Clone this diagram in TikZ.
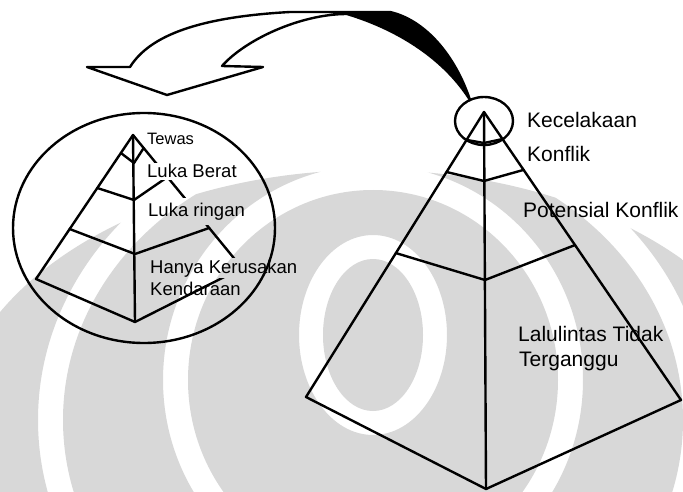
\documentclass[tikz,border=0pt]{standalone}
\usepackage{fontspec}
\setmainfont{Liberation Sans}
\usetikzlibrary{calc}
\definecolor{wm}{RGB}{216,216,216}
\begin{document}
\begin{tikzpicture}[x=1pt,y=-1pt, line join=round, line cap=round,
  edge/.style={line width=2.4pt, black},
  ring/.style={line width=2.4pt, black},
  biglab/.style={anchor=base west, inner sep=0pt, font=\fontsize{21}{21}\selectfont},
  smalllab/.style={anchor=base west, inner sep=1.5pt, font=\fontsize{18.5}{18.5}\selectfont, fill=white},
]
\useasboundingbox (0,0) rectangle (683,492);
\fill[white] (0,0) rectangle (683,492);

% ---------- big pyramid ----------
\coordinate (BA) at (484,112);
\coordinate (BL) at (306,397);
\coordinate (BB) at (486,489);
\coordinate (BR) at (681,400);
\coordinate (B1l) at ($(BA)!0.098!(BL)$);
\coordinate (B2l) at ($(BA)!0.2105!(BL)$);
\coordinate (B3l) at ($(BA)!0.495!(BL)$);
\coordinate (B1r) at ($(BA)!0.094!(BR)$);
\coordinate (B2r) at ($(BA)!0.201!(BR)$);
\coordinate (B3r) at ($(BA)!0.462!(BR)$);
\coordinate (B1c) at (484,143);
\coordinate (B2c) at (484,181);
\coordinate (B3c) at (485,280);
\draw[edge] (BA) -- (BL) -- (BB) -- (BR) -- cycle;
\draw[edge] (BA) -- (BB);
\draw[edge] (B1l) -- (B1c) -- (B1r);
\draw[edge] (B2l) -- (B2c) -- (B2r);
\draw[edge] (B3l) -- (B3c) -- (B3r);
\draw[ring] (484,121) ellipse [x radius=29pt, y radius=24pt];

\node[biglab] (kec) at (527,128) {Kecelakaan};
\node[biglab] (kon) at (527,162) {Konflik};
\node[biglab] (pot) at (523,217) {Potensial Konflik};
\node[biglab] (lal) at (518,341) {Lalulintas Tidak};
\node[biglab] (ter) at (519,366) {Terganggu};

% ---------- small pyramid ----------
\coordinate (SA) at (133,135);
\coordinate (SL) at (36,279);
\coordinate (SB) at (135,322);
\coordinate (SR) at (242,268);
\coordinate (S1l) at ($(SA)!0.125!(SL)$);
\coordinate (S2l) at ($(SA)!0.368!(SL)$);
\coordinate (S3l) at ($(SA)!0.653!(SL)$);
\coordinate (S1r) at ($(SA)!0.098!(SR)$);
\coordinate (S2r) at ($(SA)!0.316!(SR)$);
\coordinate (S3r) at ($(SA)!0.699!(SR)$);
\coordinate (S1c) at (134,163);
\coordinate (S2c) at (134,200);
\coordinate (S3c) at (135,254);
\draw[edge] (SA) -- (SL) -- (SB) -- (SR) -- cycle;
\draw[edge] (SA) -- (SB);
\draw[edge] (S1l) -- (S1c) -- (S1r);
\draw[edge] (S2l) -- (S2c) -- (S2r);
\draw[edge] (S3l) -- (S3c) -- (S3r);

\node[smalllab, font=\fontsize{16.5}{16.5}\selectfont] (tew) at (145.5,145) {Tewas};
\node[smalllab] (lbe) at (145.5,178) {Luka Berat};
\node[smalllab, inner ysep=5pt] (lri) at (146.5,216) {Luka ringan};
\node[smalllab] (hkr) at (148.5,273) {Hanya Kerusakan};
\node[smalllab, fill=none] (ken) at (148.5,295) {Kendaraan};

\draw[ring] (144,228) ellipse [x radius=131pt, y radius=115pt];

% ---------- curved block arrow ----------
\draw[line width=2.4pt, fill=white] (87,67) -- (130,67)
  .. controls (150,35) and (200,17) .. (290,12) -- (390,12)
  .. controls (425,20) and (455,55) .. (470,100)
  .. controls (445,60) and (400,30) .. (347,14)
  .. controls (300,14) and (245,40) .. (222,66)
  -- (263,67) -- (167,95) -- cycle;
\fill (347,12) -- (390,12)
  .. controls (425,20) and (455,55) .. (470,100)
  .. controls (445,60) and (400,30) .. (347,14) -- cycle;

% ---------- watermark ----------
\begin{scope}[blend mode=multiply]
\clip (370,440) ellipse [x radius=420pt, y radius=270pt];
\fill[wm, even odd rule] (0,0) rectangle (683,492)
  (373,420) ellipse [x radius=335pt, y radius=300pt]
  (373,420) ellipse [x radius=310pt, y radius=275pt]
  (373,380) ellipse [x radius=210pt, y radius=215pt]
  (373,380) ellipse [x radius=185pt, y radius=190pt]
  (373,335) ellipse [x radius=74pt, y radius=100pt]
  (373,335) ellipse [x radius=50pt, y radius=76pt];
\end{scope}
\end{tikzpicture}
\end{document}
